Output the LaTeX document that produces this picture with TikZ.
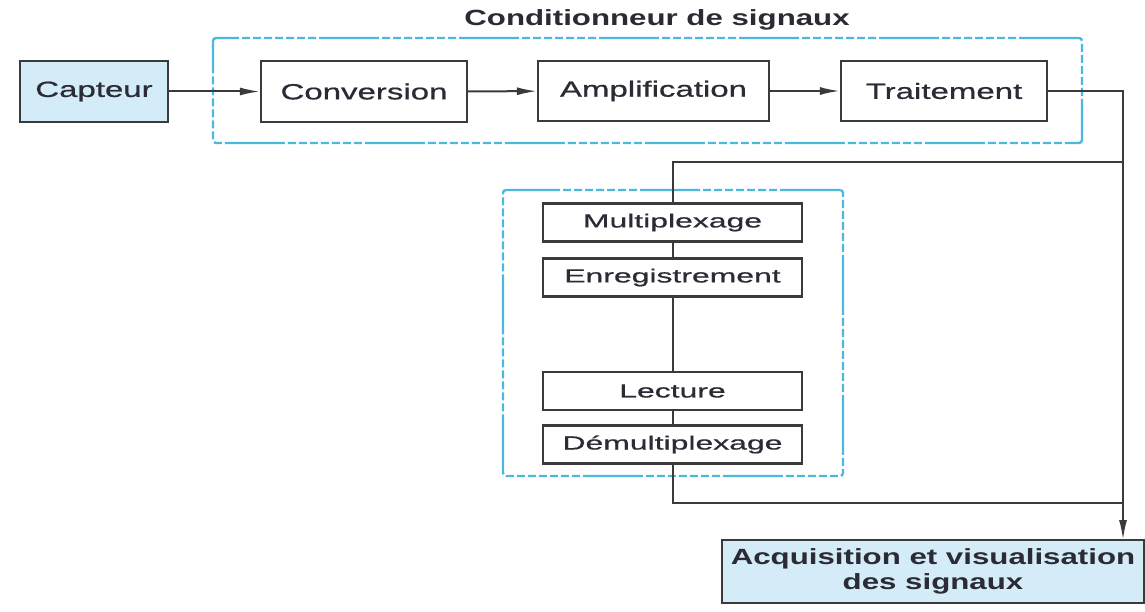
\documentclass[tikz,border=0pt]{standalone}
\usepackage{fontspec}
\usetikzlibrary{arrows.meta}
\newfontfamily\rowfont{Liberation Sans}[FakeStretch=1.5,FakeBold=0.7]
\newfontfamily\titlefont{Liberation Sans}[FakeStretch=1.42]
\newfontfamily\stackfont{Liberation Sans}[FakeStretch=1.68,FakeBold=0.7]
\definecolor{ink}{HTML}{2B2B35}
\definecolor{edge}{HTML}{3A3A3A}
\definecolor{frame}{HTML}{4CB8DE}
\definecolor{paleblue}{HTML}{D4ECF8}
\begin{document}
\begin{tikzpicture}[x=1pt,y=-1pt,
  block/.style={draw=edge, line width=2.2pt, fill=white, text=ink,
    inner sep=0pt, font=\rowfont\fontsize{22}{26}\selectfont},
  endblock/.style={block, fill=paleblue},
  stackbox/.style={block, minimum width=259pt, minimum height=38pt,
    font=\stackfont\fontsize{19}{22}\selectfont},
  groupframe/.style={draw=frame, line width=2.4pt, rounded corners=3pt, inner sep=0pt,
    dash pattern=on 60pt off 3pt on 8pt off 3pt on 8pt off 3pt on 8pt off 3pt
      on 8pt off 3pt on 8pt off 3pt on 8pt off 3pt on 8pt off 3pt},
  link/.style={draw=edge, line width=2pt},
  flow/.style={link, -{Latex[length=20pt,width=8pt]}}
]
\useasboundingbox (0,0) rectangle (1145,612);

% signal conditioner group
\node[groupframe, minimum width=869pt, minimum height=105pt] (cond) at (647.5,90.5) {};
\node[text=ink, font=\titlefont\bfseries\fontsize{22}{26}\selectfont] (condtitle) at (657,20) {Conditionneur de signaux};

% multiplexing group
\node[groupframe, minimum width=340pt, minimum height=286pt] (mplx) at (673,333) {};

% main chain
\node[endblock, minimum width=148pt, minimum height=61pt] (capteur) at (94,91.5) {Capteur};
\node[block, minimum width=206pt, minimum height=61pt] (conv) at (364,91.5) {Conversion};
\node[block, minimum width=231pt, minimum height=60pt] (ampl) at (653.5,91) {Amplification};
\node[block, minimum width=206pt, minimum height=60pt] (trait) at (944,91) {Traitement};

% storage chain
\node[stackbox] (mux) at (672.5,222.5) {Multiplexage};
\node[stackbox] (enr) at (672.5,277.5) {Enregistrement};
\node[stackbox] (lec) at (672.5,391) {Lecture};
\node[stackbox] (demux) at (672.5,444.5) {Démultiplexage};

% output
\node[endblock, minimum width=422pt, minimum height=63pt, align=center,
  font=\titlefont\bfseries\fontsize{22}{25}\selectfont] (acq) at (933,571.5)
  {Acquisition et visualisation\\des signaux};

% routing points on the right-hand bus
\coordinate (split) at (1123,162);
\coordinate (merge) at (1123,503);
\coordinate (inlet) at (1123,540);

% connectors
\draw[flow] (capteur) -- (conv);
\draw[flow] (conv) -- (ampl);
\draw[flow] (ampl) -- (trait);
\draw[flow] (trait.east) -| (inlet);
\draw[link] (split) -| (mux.north);
\draw[link] (mux) -- (enr);
\draw[link] (enr) -- (lec);
\draw[link] (lec) -- (demux);
\draw[link] (demux.south) |- (merge);
\end{tikzpicture}
\end{document}
